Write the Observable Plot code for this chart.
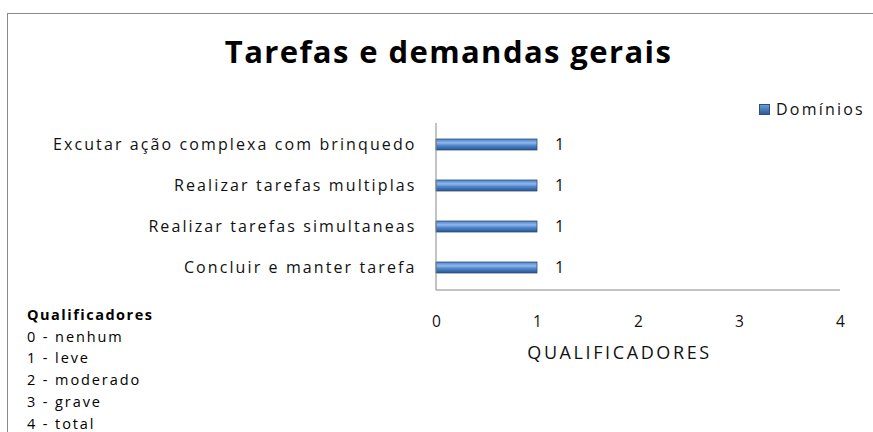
<!DOCTYPE html>
<html>
<head>
<meta charset="utf-8">
<script src="https://cdn.jsdelivr.net/npm/d3@7"></script>
<script src="https://cdn.jsdelivr.net/npm/@observablehq/plot@0.6"></script>
<style>
  html, body { margin: 0; padding: 0; background: #fff; }
  body { width: 873px; height: 432px; position: relative; overflow: hidden; font-family: "Open Sans", sans-serif; }
  #frame { position: absolute; left: 7px; top: 13px; width: 900px; height: 500px; border: 1px solid #8a8a8a; box-sizing: border-box; }
  #chart { position: absolute; left: 0; top: 0; }
  #title { position: absolute; left: 12px; width: 873px; top: 30px; text-align: center; font-size: 31px; font-weight: 700; color: #000; letter-spacing: 1.4px; }
  #legend { position: absolute; left: 759px; top: 98px; font-size: 16px; color: #111; display: flex; align-items: center; letter-spacing: 2.2px; }
  #legend .sw { width: 11px; height: 11px; background: linear-gradient(#6a9ad8, #2d5c96); border: 1px solid #2b527f; box-sizing: border-box; margin-right: 6px; }
  #quals { position: absolute; left: 27px; top: 304px; font-size: 14.5px; line-height: 21.7px; color: #000; letter-spacing: 1.9px; }
  #quals b { font-weight: 700; letter-spacing: 1.5px; }
  #chart g[aria-label="y-axis tick label"] text { letter-spacing: 2.1px; }
  #chart text.xtitle { letter-spacing: 2.6px; }
</style>
</head>
<body>
<div id="frame"></div>
<div id="chart"></div>
<div id="title"></div>
<div id="legend"><div class="sw"></div><span id="legendText"></span></div>
<div id="quals"></div>
<script>
const titleText = "Tarefas e demandas gerais";
const seriesName = "Domínios";
const categories = [
  "Excutar ação complexa com brinquedo",
  "Realizar tarefas multiplas",
  "Realizar tarefas simultaneas",
  "Concluir e manter tarefa"
];
const values = [1, 1, 1, 1];
const xTicks = [0, 1, 2, 3, 4];
const xLabel = "QUALIFICADORES";
const qualHeading = "Qualificadores";
const qualLines = ["0 - nenhum", "1 - leve", "2 - moderado", "3 - grave", "4 - total"];

const data = categories.map((c, i) => ({category: c, value: values[i]}));

document.getElementById("title").textContent = titleText;
document.getElementById("legendText").textContent = seriesName;
const q = document.getElementById("quals");
const hb = document.createElement("b"); hb.textContent = qualHeading; q.appendChild(hb);
qualLines.forEach(t => { q.appendChild(document.createElement("br")); q.appendChild(document.createTextNode(t)); });

const chart = Plot.plot({
  width: 873,
  height: 432,
  marginLeft: 436,
  marginRight: 33,
  marginTop: 123,
  marginBottom: 142,
  style: {fontFamily: "Open Sans, sans-serif", fontSize: "15px", background: "transparent", color: "#111"},
  x: {domain: [0, 4], label: null},
  y: {domain: categories, paddingInner: 0.72, paddingOuter: 0.36, label: null},
  marks: [
    Plot.barX(data, {x: "value", y: "category", fill: "url(#barGrad)", stroke: "#2b527f", strokeWidth: 0.8}),
    Plot.text(data, {x: "value", y: "category", text: d => String(d.value), dx: 22, textAnchor: "middle", fontSize: 16, fill: "#111"}),
    Plot.axisX({ticks: xTicks, tickFormat: d3.format("d"), tickSize: 0, tickPadding: 25, fontSize: 15.5, label: null}),
    Plot.axisY({tickSize: 0, tickPadding: 20, fontSize: 16, label: null}),
    Plot.text([xLabel], {frameAnchor: "bottom", dy: 68, dx: -19, fontSize: 18, fill: "#111"})
  ]
});

// gradient defs
const svg = d3.select(chart);
const defs = svg.insert("defs", ":first-child");
const g = defs.append("linearGradient").attr("id", "barGrad").attr("x1", 0).attr("y1", 0).attr("x2", 0).attr("y2", 1);
g.append("stop").attr("offset", "0%").attr("stop-color", "#4a7fc4");
g.append("stop").attr("offset", "35%").attr("stop-color", "#8fb8ec");
g.append("stop").attr("offset", "60%").attr("stop-color", "#4f86cf");
g.append("stop").attr("offset", "100%").attr("stop-color", "#2a5488");

// x title letter spacing
svg.selectAll("text").filter(function() { return this.textContent === xLabel; }).classed("xtitle", true);

// axis lines from scales
const xs = chart.scale("x");
const x0 = xs.apply(0), x4 = xs.apply(4);
const yTop = 123, yBot = 432 - 142;
svg.append("line").attr("x1", x0).attr("x2", x0).attr("y1", yTop).attr("y2", yBot).attr("stroke", "#888");
svg.append("line").attr("x1", x0).attr("x2", x4).attr("y1", yBot).attr("y2", yBot).attr("stroke", "#888");

document.getElementById("chart").appendChild(chart);
</script>
</body>
</html>
